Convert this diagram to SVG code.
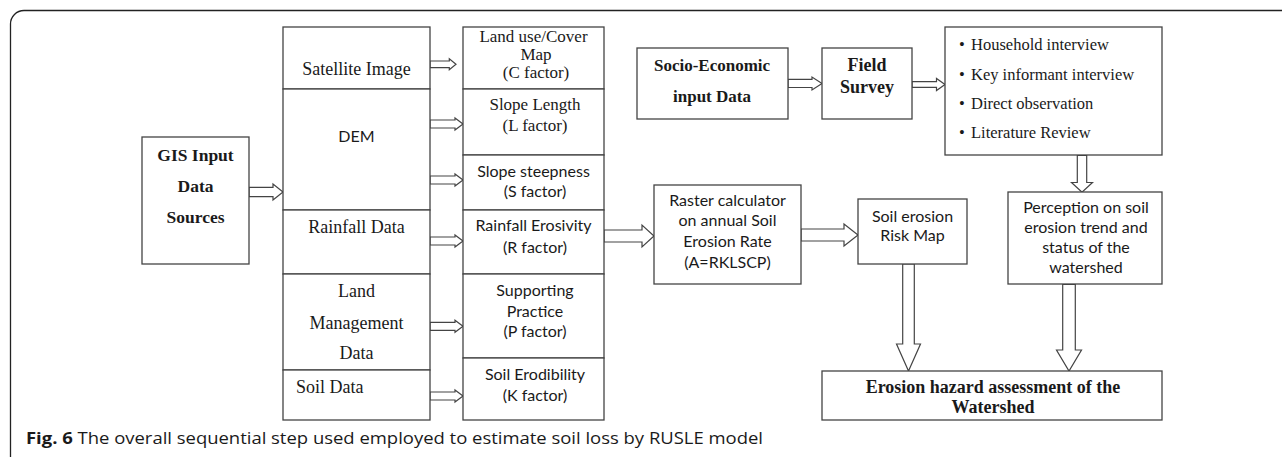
<svg xmlns="http://www.w3.org/2000/svg" width="1282" height="457" viewBox="0 0 1282 457">
<style>
.box{fill:#fff;stroke:#444;stroke-width:1.3}
.arr{fill:#fff;stroke:#444;stroke-width:1.2;stroke-linejoin:miter}
.sr{font-family:"Liberation Serif","Times New Roman",serif;fill:#1a1a1a;text-anchor:middle}
.sb{font-family:"Liberation Serif","Times New Roman",serif;font-weight:bold;fill:#1a1a1a;text-anchor:middle}
.ss{font-family:Lato,"Liberation Sans",sans-serif;font-size:16px;fill:#1a1a1a;text-anchor:middle}
.cap{font-family:"Open Sans","Noto Sans",sans-serif;font-size:16px;fill:#1a1a1a}
</style>
<rect width="1282" height="457" fill="#fff"/>
<path d="M10.5,457 V24 A13.5,13.5 0 0 1 24,10.5 H1282" fill="none" stroke="#222" stroke-width="1.3"/>

<g id="connectors">
<path class="arr" d="M249,187.3 H273 V184 L283,192 L273,200 V196.7 H249 Z"/>
<path class="arr" d="M430,61 H449.3 V58.8 L456,64.3 L449.3,69.8 V67.6 H430 Z"/>
<path class="arr" d="M430,120 H455 V118 L463,124 L455,130 V128 H430 Z"/>
<path class="arr" d="M430,176 H455 V174 L463,180 L455,186 V184 H430 Z"/>
<path class="arr" d="M430,237 H455 V235 L463,241 L455,247 V245 H430 Z"/>
<path class="arr" d="M430,322.3 H455 V320.3 L463,326.3 L455,332.3 V330.3 H430 Z"/>
<path class="arr" d="M430,392 H455 V390 L463,396 L455,402 V400 H430 Z"/>
<path class="arr" d="M604,230 H642 V225 L654,236 L642,247 V242 H604 Z"/>
<path class="arr" d="M801,229 H844 V224 L858,235 L844,246 V241 H801 Z"/>
<path class="arr" d="M788,79.3 H812 V77 L822,83.5 L812,90 V87.5 H788 Z"/>
<path class="arr" d="M912,81.7 H936.5 V78.5 L945,84.5 L936.5,90.5 V87.3 H912 Z"/>
<path class="arr" d="M1077.3,155.3 V182.5 H1071.5 L1082,192.3 L1092.5,182.5 H1086.7 V155.3 Z"/>
<path class="arr" d="M902.7,264 V344 H896.5 L908.5,371 L920.5,344 H914.3 V264 Z"/>
<path class="arr" d="M1062.7,284.3 V350 H1056.5 L1069,371 L1081.5,350 H1075.3 V284.3 Z"/>
</g>

<g id="gis">
<rect class="box" x="142" y="137" width="107" height="127"/>
<text class="sb" font-size="17.5"><tspan x="195.5" y="161">GIS Input</tspan><tspan x="195.5" y="192">Data</tspan><tspan x="195.5" y="223">Sources</tspan></text>
</g>

<g id="satellite">
<rect class="box" x="283" y="27" width="147" height="62"/>
<text class="sr" font-size="18" x="356.5" y="75">Satellite Image</text>
</g>
<g id="dem">
<rect class="box" x="283" y="89" width="147" height="121"/>
<text class="ss" x="356.5" y="142">DEM</text>
</g>
<g id="rainfall">
<rect class="box" x="283" y="210" width="147" height="64"/>
<text class="sr" font-size="18" x="356.5" y="232.5">Rainfall Data</text>
</g>
<g id="landmgmt">
<rect class="box" x="283" y="274" width="147" height="96"/>
<text class="sr" font-size="18"><tspan x="356.5" y="297">Land</tspan><tspan x="356.5" y="329">Management</tspan><tspan x="356.5" y="359">Data</tspan></text>
</g>
<g id="soil">
<rect class="box" x="283" y="370" width="147" height="50"/>
<text class="sr" font-size="18" x="296" y="392.5" text-anchor="start" style="text-anchor:start">Soil Data</text>
</g>

<g id="cfactor">
<rect class="box" x="463" y="27" width="141" height="62"/>
<text class="sr" font-size="17"><tspan x="533.5" y="42">Land use/Cover</tspan><tspan x="536" y="60">Map</tspan><tspan x="536" y="78">(C factor)</tspan></text>
</g>
<g id="lfactor">
<rect class="box" x="463" y="89" width="141" height="66"/>
<text class="sr" font-size="17"><tspan x="535" y="110">Slope Length</tspan><tspan x="535" y="131">(L factor)</tspan></text>
</g>
<g id="sfactor">
<rect class="box" x="463" y="155" width="141" height="55"/>
<text class="ss"><tspan x="533.5" y="177">Slope steepness</tspan><tspan x="535" y="197">(S factor)</tspan></text>
</g>
<g id="rfactor">
<rect class="box" x="463" y="210" width="141" height="64"/>
<text class="ss"><tspan x="533.5" y="231">Rainfall Erosivity</tspan><tspan x="535" y="253">(R factor)</tspan></text>
</g>
<g id="pfactor">
<rect class="box" x="463" y="274" width="141" height="84"/>
<text class="ss"><tspan x="535" y="296">Supporting</tspan><tspan x="535" y="317">Practice</tspan><tspan x="535" y="337">(P factor)</tspan></text>
</g>
<g id="kfactor">
<rect class="box" x="463" y="358" width="141" height="62"/>
<text class="ss"><tspan x="535" y="380">Soil Erodibility</tspan><tspan x="535" y="401">(K factor)</tspan></text>
</g>

<g id="raster">
<rect class="box" x="654" y="185" width="147" height="99"/>
<text class="ss"><tspan x="727.5" y="206">Raster calculator</tspan><tspan x="727.5" y="226">on annual Soil</tspan><tspan x="727.5" y="247">Erosion Rate</tspan><tspan x="727.5" y="268">(A=RKLSCP)</tspan></text>
</g>

<g id="socio">
<rect class="box" x="637" y="48" width="151" height="71"/>
<text class="sb" font-size="17"><tspan x="712" y="71">Socio-Economic</tspan><tspan x="712" y="102">input Data</tspan></text>
</g>
<g id="field">
<rect class="box" x="822" y="48" width="90" height="71"/>
<text class="sb" font-size="18"><tspan x="867" y="71">Field</tspan><tspan x="867" y="93">Survey</tspan></text>
</g>
<g id="methods">
<rect class="box" x="945" y="27" width="217" height="128"/>
<g class="sr" font-size="16.5" style="text-anchor:start">
<text x="959" y="50" style="text-anchor:start">•<tspan x="971">Household interview</tspan></text>
<text x="959" y="79.5" style="text-anchor:start">•<tspan x="971">Key informant interview</tspan></text>
<text x="959" y="109" style="text-anchor:start">•<tspan x="971">Direct observation</tspan></text>
<text x="959" y="138" style="text-anchor:start">•<tspan x="971">Literature Review</tspan></text>
</g>
</g>

<g id="riskmap">
<rect class="box" x="858" y="199" width="109" height="65"/>
<text class="ss"><tspan x="912.5" y="221.5">Soil erosion</tspan><tspan x="912.5" y="241">Risk Map</tspan></text>
</g>
<g id="perception">
<rect class="box" x="1008" y="192" width="154" height="92"/>
<text class="ss"><tspan x="1086" y="213">Perception on soil</tspan><tspan x="1086" y="233">erosion trend and</tspan><tspan x="1086" y="253">status of the</tspan><tspan x="1086" y="273">watershed</tspan></text>
</g>
<g id="hazard">
<rect class="box" x="822" y="371" width="340" height="49"/>
<text class="sb" font-size="18"><tspan x="993" y="393">Erosion hazard assessment of the</tspan><tspan x="993" y="413">Watershed</tspan></text>
</g>

<text class="cap" x="26" y="444" textLength="737" lengthAdjust="spacingAndGlyphs"><tspan font-weight="bold">Fig. 6</tspan>  The overall sequential step used employed to estimate soil loss by RUSLE model</text>
</svg>
